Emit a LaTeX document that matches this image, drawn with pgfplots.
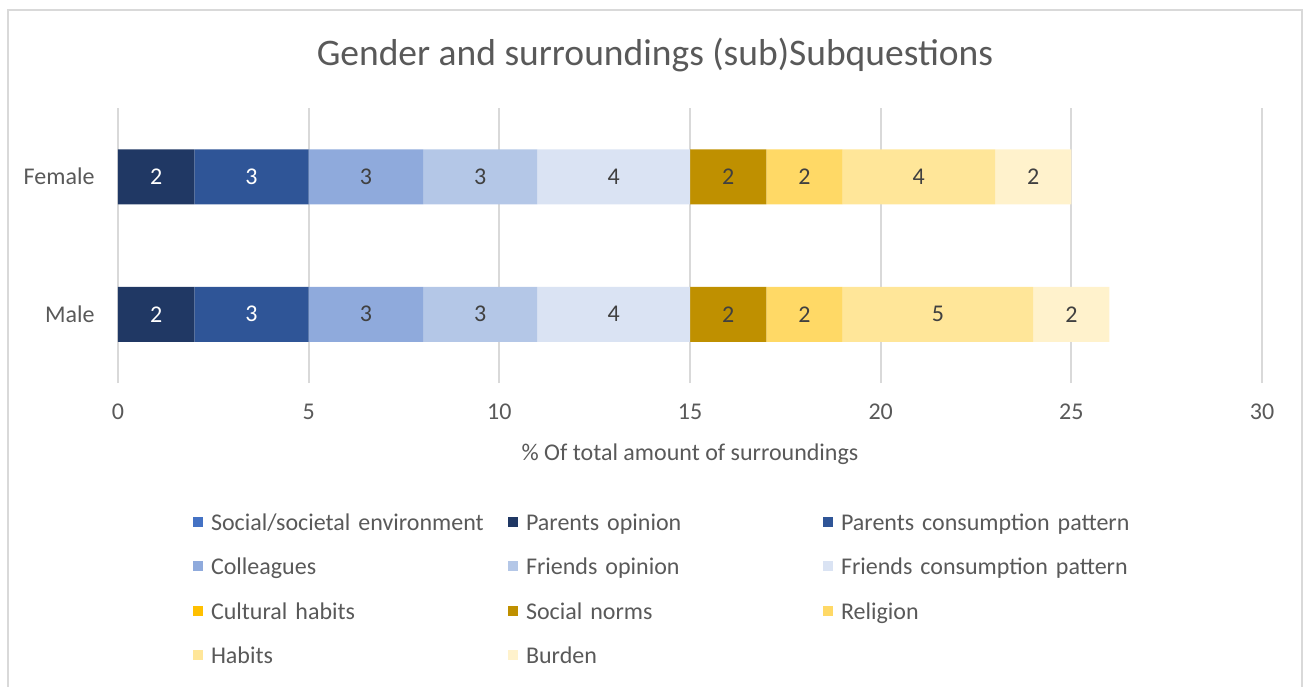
\documentclass[border=0pt]{standalone}
\usepackage{pgfplots}
\pgfplotsset{compat=1.18}
\usepackage{fontspec}
\setmainfont{Carlito}
\definecolor{txtc}{HTML}{595959}
\definecolor{lblc}{HTML}{404040}
\definecolor{gridc}{HTML}{D9D9D9}
\definecolor{c1}{HTML}{4472C4}
\definecolor{c2}{HTML}{203864}
\definecolor{c3}{HTML}{2F5597}
\definecolor{c4}{HTML}{8FAADC}
\definecolor{c5}{HTML}{B4C7E7}
\definecolor{c6}{HTML}{DAE3F3}
\definecolor{c7}{HTML}{FFC000}
\definecolor{c8}{HTML}{BF9000}
\definecolor{c9}{HTML}{FFD966}
\definecolor{c10}{HTML}{FFE699}
\definecolor{c11}{HTML}{FFF2CC}
\newcommand\lbl{\fontsize{24}{29}\selectfont}
\newcommand\ttl{\fontsize{37.5}{45}\selectfont}
\begin{document}
\begin{tikzpicture}
\begin{axis}[
  scale only axis, width=1144pt, height=275pt,
  xbar stacked, bar width=55pt,
  xmin=0, xmax=30, ymin=-0.5, ymax=1.5,
  ytick={0,1}, yticklabels={Male,Female},
  xtick={0,5,...,30},
  major tick length=0pt,
  axis line style={draw=none},
  xmajorgrids, major grid style={gridc, line width=2pt},
  /pgf/number format/assume math mode=true,
  ticklabel style={font=\lbl, text=txtc},
  xticklabel style={anchor=center, yshift=-29pt},
  yticklabel style={anchor=east, xshift=-20pt},
  title={Gender and surroundings (sub)Subquestions},
  title style={font=\ttl, text=txtc, at={(axis description cs:0.4694,1.172)}, anchor=center},
  xlabel={\% Of total amount of surroundings},
  xlabel style={font=\lbl, text=txtc, at={(axis description cs:0.5,-0.258)}, anchor=center},
  legend image code/.code={\fill[#1] (0pt,-1.5pt) rectangle (10pt,8.5pt);},
  legend columns=3,
  legend cell align=left,
  legend style={draw=none, fill=none, inner sep=0pt, outer sep=0pt,
    at={(0.0656,-0.48)}, anchor=north west,
    font=\lbl, text=txtc,
    nodes={text width=297pt, align=left, inner sep=0pt, text height=15pt, text depth=5pt},
    /tikz/every odd column/.append style={column sep=8pt},
    row sep=24.6pt},
  every node near coord/.append style={font=\lbl, text=lblc, anchor=center},
]
\coordinate (O) at (rel axis cs:0,0);
\addplot[fill=c1, draw=none] coordinates {(0,0) (0,1)};
\addlegendentry{Social/societal environment}
\addplot[fill=c2, draw=none, nodes near coords, every node near coord/.append style={text=white}] coordinates {(2,0) (2,1)};
\addlegendentry{Parents opinion}
\addplot[fill=c3, draw=none, nodes near coords, every node near coord/.append style={text=white}] coordinates {(3,0) (3,1)};
\addlegendentry{Parents consumption pattern}
\addplot[fill=c4, draw=none, nodes near coords] coordinates {(3,0) (3,1)};
\addlegendentry{Colleagues}
\addplot[fill=c5, draw=none, nodes near coords] coordinates {(3,0) (3,1)};
\addlegendentry{Friends opinion}
\addplot[fill=c6, draw=none, nodes near coords] coordinates {(4,0) (4,1)};
\addlegendentry{Friends consumption pattern}
\addplot[fill=c7, draw=none] coordinates {(0,0) (0,1)};
\addlegendentry{Cultural habits}
\addplot[fill=c8, draw=none, nodes near coords] coordinates {(2,0) (2,1)};
\addlegendentry{Social norms}
\addplot[fill=c9, draw=none, nodes near coords] coordinates {(2,0) (2,1)};
\addlegendentry{Religion}
\addplot[fill=c10, draw=none, nodes near coords] coordinates {(5,0) (4,1)};
\addlegendentry{Habits}
\addplot[fill=c11, draw=none, nodes near coords] coordinates {(2,0) (2,1)};
\addlegendentry{Burden}
\end{axis}
\pgfresetboundingbox
\path[use as bounding box] ([xshift=-118pt,yshift=-303pt]O) rectangle ([xshift=1191pt,yshift=383pt]O);
\draw[gridc, line width=1.5pt] ([xshift=-110pt,yshift=-330pt]O) -- ([xshift=-110pt,yshift=373pt]O) -- ([xshift=1184pt,yshift=373pt]O) -- ([xshift=1184pt,yshift=-330pt]O);
\end{tikzpicture}
\end{document}
